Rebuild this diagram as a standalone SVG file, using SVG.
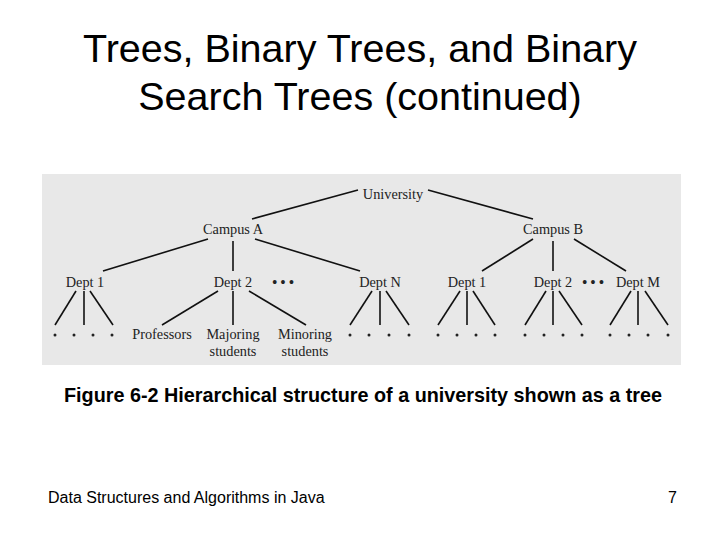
<svg xmlns="http://www.w3.org/2000/svg" width="720" height="540" viewBox="0 0 720 540">
<style>
.t{font-family:"Liberation Serif",serif;font-size:14.3px;fill:#222;text-anchor:middle}
.d{font-family:"Liberation Serif",serif;font-size:14px;fill:#222;text-anchor:middle;font-weight:bold}
#edges line{stroke:#111;stroke-width:1.6}
</style>
<rect width="720" height="540" fill="#fff"/>
<g id="title" font-family="Liberation Sans,Arial,sans-serif" font-size="39.5" text-anchor="middle" fill="#000">
<text x="360" y="62">Trees, Binary Trees, and Binary</text>
<text x="360" y="110">Search Trees (continued)</text>
</g>
<rect x="42" y="174" width="639" height="191" fill="#e8e8e8"/>
<g id="edges">
<line x1="358" y1="190" x2="252" y2="219"/><line x1="428" y1="190" x2="533" y2="219"/>
<line x1="208" y1="239" x2="103" y2="271"/><line x1="233" y1="241" x2="233" y2="271"/><line x1="255" y1="239" x2="360" y2="271"/>
<line x1="533" y1="239" x2="482" y2="271"/><line x1="553" y1="241" x2="553" y2="271"/><line x1="574" y1="239" x2="626" y2="271"/>
<line x1="76" y1="291" x2="55" y2="325"/><line x1="84" y1="291" x2="84" y2="325"/><line x1="90" y1="291" x2="113" y2="325"/>
<line x1="218" y1="291" x2="162" y2="325"/><line x1="233" y1="291" x2="233" y2="325"/><line x1="249" y1="291" x2="306" y2="325"/>
<line x1="372" y1="291" x2="350" y2="325"/><line x1="380" y1="291" x2="380" y2="325"/><line x1="386" y1="291" x2="409" y2="325"/>
<line x1="460" y1="291" x2="438" y2="325"/><line x1="467" y1="291" x2="467" y2="325"/><line x1="473" y1="291" x2="495" y2="325"/>
<line x1="546" y1="291" x2="525" y2="325"/><line x1="553" y1="291" x2="553" y2="325"/><line x1="559" y1="291" x2="582" y2="325"/>
<line x1="631" y1="291" x2="610" y2="325"/><line x1="638" y1="291" x2="638" y2="325"/><line x1="645" y1="291" x2="668" y2="325"/>
</g>
<g id="university"><text class="t" x="393" y="199">University</text></g>
<g id="campusA"><text class="t" x="233" y="234">Campus A</text></g>
<g id="campusB"><text class="t" x="553" y="234">Campus B</text></g>
<g id="a-dept1"><text class="t" x="85" y="287">Dept 1</text></g>
<g id="a-dept2"><text class="t" x="233" y="287">Dept 2</text></g>
<g id="a-deptN"><text class="t" x="380" y="287">Dept N</text></g>
<g id="b-dept1"><text class="t" x="467" y="287">Dept 1</text></g>
<g id="b-dept2"><text class="t" x="553" y="287">Dept 2</text></g>
<g id="b-deptM"><text class="t" x="638" y="287">Dept M</text></g>
<g id="ellipses"><text class="d" x="283" y="287">• • •</text><text class="d" x="593" y="287">• • •</text></g>
<g id="professors"><text class="t" x="162" y="339">Professors</text></g>
<g id="majoring"><text class="t" x="233" y="339">Majoring</text><text class="t" x="233" y="356">students</text></g>
<g id="minoring"><text class="t" x="305" y="339">Minoring</text><text class="t" x="305" y="356">students</text></g>
<g id="leafdots" fill="#222">
<circle cx="55" cy="335" r="1.5"/><circle cx="74" cy="335" r="1.5"/><circle cx="93" cy="335" r="1.5"/><circle cx="112" cy="335" r="1.5"/>
<circle cx="350" cy="335" r="1.5"/><circle cx="369" cy="335" r="1.5"/><circle cx="389" cy="335" r="1.5"/><circle cx="409" cy="335" r="1.5"/>
<circle cx="438" cy="335" r="1.5"/><circle cx="457" cy="335" r="1.5"/><circle cx="476" cy="335" r="1.5"/><circle cx="495" cy="335" r="1.5"/>
<circle cx="525" cy="335" r="1.5"/><circle cx="544" cy="335" r="1.5"/><circle cx="563" cy="335" r="1.5"/><circle cx="582" cy="335" r="1.5"/>
<circle cx="610" cy="335" r="1.5"/><circle cx="629" cy="335" r="1.5"/><circle cx="648" cy="335" r="1.5"/><circle cx="668" cy="335" r="1.5"/>
</g>
<g id="caption"><text x="363" y="402" font-family="Liberation Sans,Arial,sans-serif" font-size="19.8" font-weight="bold" text-anchor="middle">Figure 6-2 Hierarchical structure of a university shown as a tree</text></g>
<g id="footer" font-family="Liberation Sans,Arial,sans-serif" font-size="16" fill="#000">
<text x="48" y="503">Data Structures and Algorithms in Java</text>
<text x="677" y="503" text-anchor="end">7</text>
</g>
</svg>
